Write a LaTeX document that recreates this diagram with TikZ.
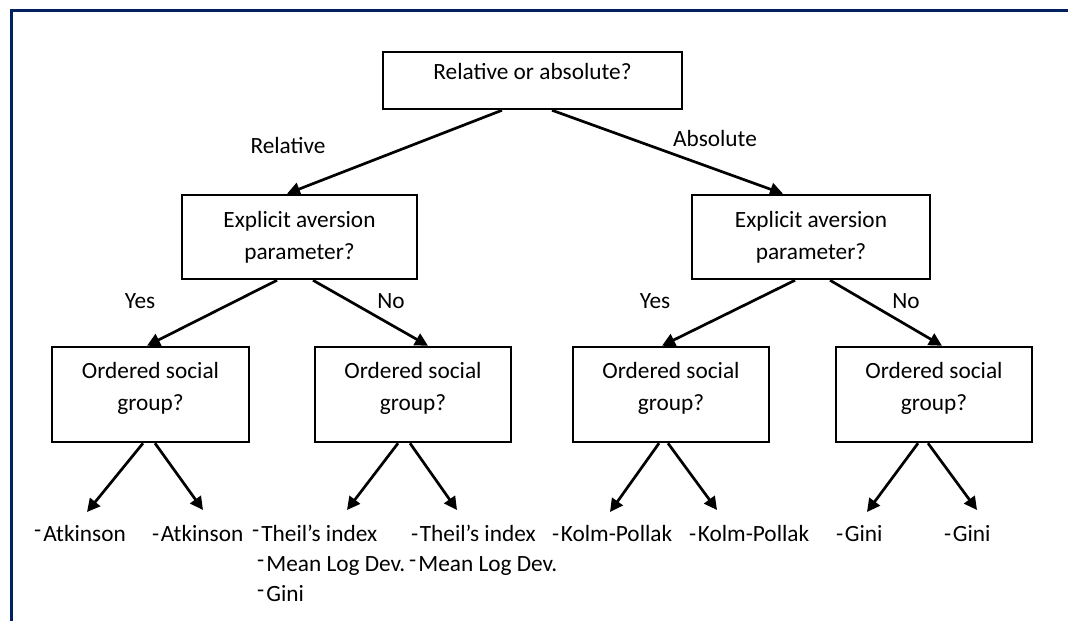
\documentclass[tikz,border=0pt]{standalone}
\usepackage{fontspec}
\setmainfont{Carlito}
\usetikzlibrary{arrows.meta}
\definecolor{navy}{RGB}{0,32,96}
\newcommand\rdash{\raisebox{3.5pt}{-}\kern2pt}
\newcommand\ldash{-\kern1.5pt}
\begin{document}
\begin{tikzpicture}[x=1pt,y=-1pt,
  box/.style={draw,line width=2.5pt,align=center,inner sep=0pt,font=\fontsize{23.3}{32}\selectfont},
  lbl/.style={inner sep=0pt,font=\fontsize{23.3}{28}\selectfont},
  leaf/.style={anchor=base west,inner sep=0pt,font=\fontsize{23.3}{30}\selectfont},
  arr/.style={line width=2.7pt,-{Triangle[length=13pt,width=13pt]}}]
\useasboundingbox (0,0) rectangle (1068,621);
\fill[white] (0,0) rectangle (1068,621);
\draw[navy,line width=3pt] (11,621) -- (11,10) -- (1068,10);

% boxes
\node[box,minimum width=299pt,minimum height=57pt,text depth=18pt] (root) at (532.5,80.5) {Relative or absolute?};
\node[box,minimum width=235pt,minimum height=84pt] (expL) at (299.5,237) {Explicit aversion\\parameter?};
\node[box,minimum width=238pt,minimum height=84pt] (expR) at (811,237) {Explicit aversion\\parameter?};
\node[box,minimum width=197pt,minimum height=95pt,text depth=17pt] (o1) at (150.5,394.5) {Ordered social\\group?};
\node[box,minimum width=196pt,minimum height=95pt,text depth=17pt] (o2) at (413,394.5) {Ordered social\\group?};
\node[box,minimum width=196pt,minimum height=95pt,text depth=17pt] (o3) at (671,394.5) {Ordered social\\group?};
\node[box,minimum width=196pt,minimum height=95pt,text depth=17pt] (o4) at (934,394.5) {Ordered social\\group?};

% labels
\node[lbl] (lrel) at (288,145) {Relative};
\node[lbl] (labs) at (715,138) {Absolute};
\node[lbl] (ly1) at (140,301) {Yes};
\node[lbl] (ln1) at (391,301) {No};
\node[lbl] (ly2) at (655,301) {Yes};
\node[lbl] (ln2) at (906,301) {No};

% connectors
\draw[arr] ([xshift=-30.5pt]root.south) -- ([xshift=-12.5pt]expL.north);
\draw[arr] ([xshift=19.5pt]root.south) -- ([xshift=-28pt]expR.north);
\draw[arr] ([xshift=-22.5pt]expL.south) -- ([xshift=-3.5pt]o1.north);
\draw[arr] ([xshift=13.5pt]expL.south) -- ([xshift=15pt]o2.north);
\draw[arr] ([xshift=-16pt]expR.south) -- ([xshift=-9pt]o3.north);
\draw[arr] ([xshift=19pt]expR.south) -- ([xshift=8pt]o4.north);

% leaves
\coordinate (t1a) at (87,512);
\coordinate (t1b) at (203,510);
\coordinate (t2a) at (347,510);
\coordinate (t2b) at (457,510);
\coordinate (t3a) at (610,512);
\coordinate (t3b) at (717,510);
\coordinate (t4a) at (867,512);
\coordinate (t4b) at (977,510);
\draw[arr] ([xshift=-7.5pt]o1.south) -- (t1a);
\draw[arr] ([xshift=4.5pt]o1.south) -- (t1b);
\draw[arr] ([xshift=-15pt]o2.south) -- (t2a);
\draw[arr] ([xshift=-3pt]o2.south) -- (t2b);
\draw[arr] ([xshift=-12pt]o3.south) -- (t3a);
\draw[arr] ([xshift=-3pt]o3.south) -- (t3b);
\draw[arr] ([xshift=-16pt]o4.south) -- (t4a);
\draw[arr] ([xshift=-6pt]o4.south) -- (t4b);

\node[leaf] (a1) at (34,541) {\rdash Atkinson};
\node[leaf] (a2) at (152,541) {\ldash Atkinson};
\node[leaf] (b1) at (252,541) {\rdash Theil’s index};
\node[leaf] (b2) at (257,571) {\rdash Mean Log Dev.};
\node[leaf] (b3) at (257,601) {\rdash Gini};
\node[leaf] (c1) at (411,541) {\ldash Theil’s index};
\node[leaf] (c2) at (409,571) {\rdash Mean Log Dev.};
\node[leaf] (d1) at (552,541) {\ldash Kolm-Pollak};
\node[leaf] (d2) at (689,541) {\ldash Kolm-Pollak};
\node[leaf] (e1) at (836,541) {\ldash Gini};
\node[leaf] (e2) at (944,541) {\ldash Gini};
\end{tikzpicture}
\end{document}
